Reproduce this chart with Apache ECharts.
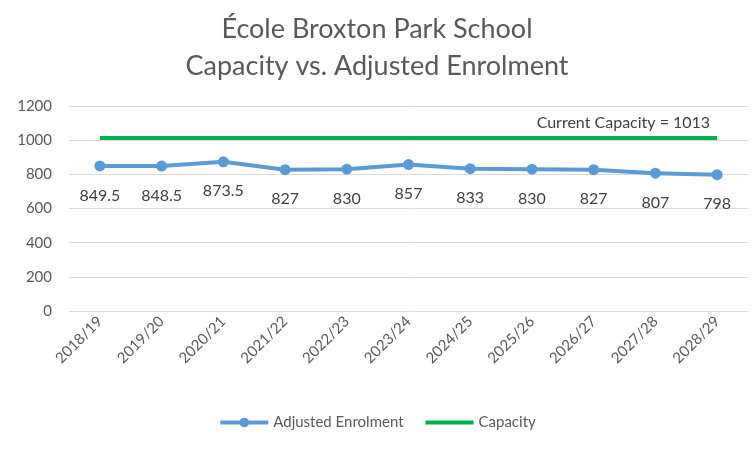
<!DOCTYPE html>
<html><head><meta charset="utf-8">
<script src="https://cdn.jsdelivr.net/npm/echarts@6/dist/echarts.min.js"></script>
<style>html,body{margin:0;padding:0;background:#fff}#c{width:754px;height:449px}</style>
</head><body><div id="c"></div>
<script>
const categories = ['2018/19','2019/20','2020/21','2021/22','2022/23','2023/24','2024/25','2025/26','2026/27','2027/28','2028/29'];
const enrolment = [849.5, 848.5, 873.5, 827, 830, 857, 833, 830, 827, 807, 798];
const capacity = [1013,1013,1013,1013,1013,1013,1013,1013,1013,1013,1013];
const capacityLabel = 'Current Capacity = 1013';
const titleLines = ['École Broxton Park School', 'Capacity vs. Adjusted Enrolment'];

const font = "Lato, 'Open Sans', sans-serif";
const chart = echarts.init(document.getElementById('c'), null, {renderer:'canvas'});
chart.setOption({
  animation:false,
  backgroundColor:'#fff',
  title:{text:titleLines.join('\n'), left:'center', top:6,
    textStyle:{fontFamily:font, fontSize:27, fontWeight:'normal', color:'#595959', lineHeight:37}},
  legend:{bottom:14, left:'center', itemWidth:48, itemHeight:12, itemGap:22,
    textStyle:{fontFamily:font, fontSize:15, color:'#595959'},
    data:[{name:'Adjusted Enrolment', lineStyle:{width:4}},
          {name:'Capacity', icon:'path://M0,0L48,0L48,4L0,4Z', itemStyle:{color:'#00B050'}}]},
  grid:{left:69, right:6, top:106, bottom:138},
  xAxis:{type:'category', data:categories, boundaryGap:true,
    axisLine:{show:false}, axisTick:{show:false},
    axisLabel:{rotate:45, fontFamily:font, fontSize:15, color:'#595959', margin:8, interval:0}},
  yAxis:{type:'value', min:0, max:1200, interval:200,
    axisLabel:{fontFamily:font, fontSize:15, color:'#595959', margin:17, formatter:function(v){return String(v);}},
    splitLine:{lineStyle:{color:'#d9d9d9', width:1}}},
  series:[
    {name:'Adjusted Enrolment', type:'line', data:enrolment, symbol:'circle', symbolSize:11,
     itemStyle:{color:'#5B9BD5'}, lineStyle:{color:'#5B9BD5', width:4},
     label:{show:true, position:'bottom', distance:16, fontFamily:font, fontSize:16, color:'#404040'}},
    {name:'Capacity', type:'line', data:capacity, symbol:'none',
     itemStyle:{color:'#00B050'}, lineStyle:{color:'#00B050', width:4},
     markPoint:{symbol:'circle', symbolSize:0, data:[{coord:[categories.length-1, capacity[capacity.length-1]],
       label:{show:true, formatter:capacityLabel, position:'left', offset:[-2,-15], fontFamily:font, fontSize:16, color:'#404040'}}]}
    }
  ]
});
</script></body></html>
